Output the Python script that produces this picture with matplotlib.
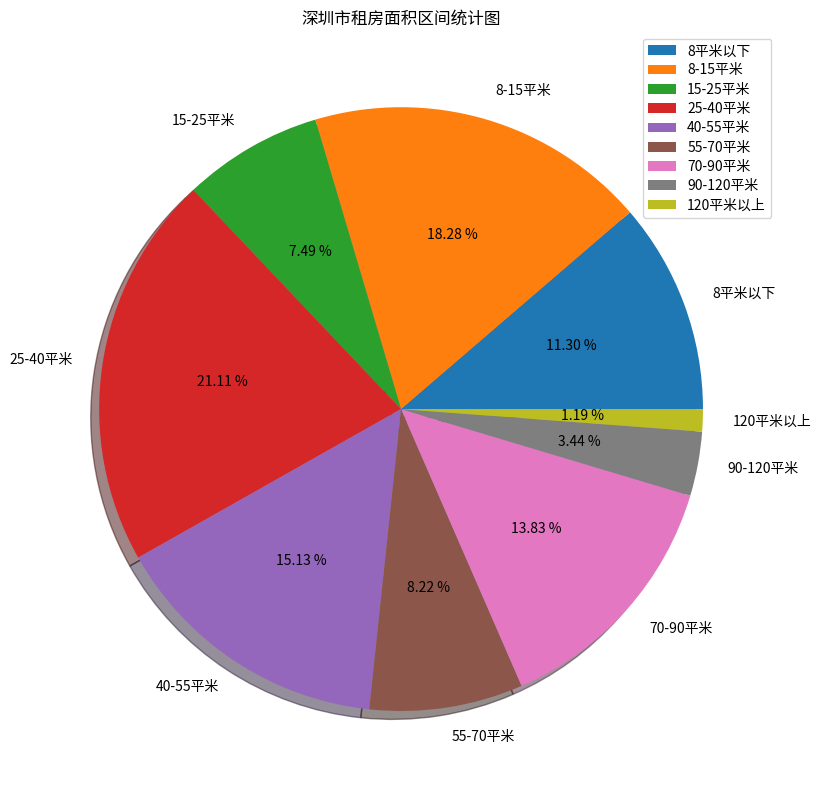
import matplotlib
matplotlib.use("Agg")
import matplotlib.pyplot as plt

plt.rcParams["font.family"] = ["Noto Sans CJK SC", "DejaVu Sans"]
plt.rcParams["axes.unicode_minus"] = False

labels = ["8平米以下", "8-15平米", "15-25平米", "25-40平米", "40-55平米",
          "55-70平米", "70-90平米", "90-120平米", "120平米以上"]
shares = [11.30, 18.28, 7.49, 21.11, 15.13, 8.22, 13.83, 3.44, 1.19]

fig = plt.figure(figsize=(8.19, 7.97), dpi=100)
ax = fig.add_axes([0.0287, 0.0132, 0.922, 0.947])
ax.pie(shares, labels=labels, autopct="%.2f %%", shadow=True)
ax.set_title("深圳市租房面积区间统计图")
ax.legend(loc="upper right", labelspacing=0.38, borderpad=0.4)
fig.savefig("out.png", dpi=100)
